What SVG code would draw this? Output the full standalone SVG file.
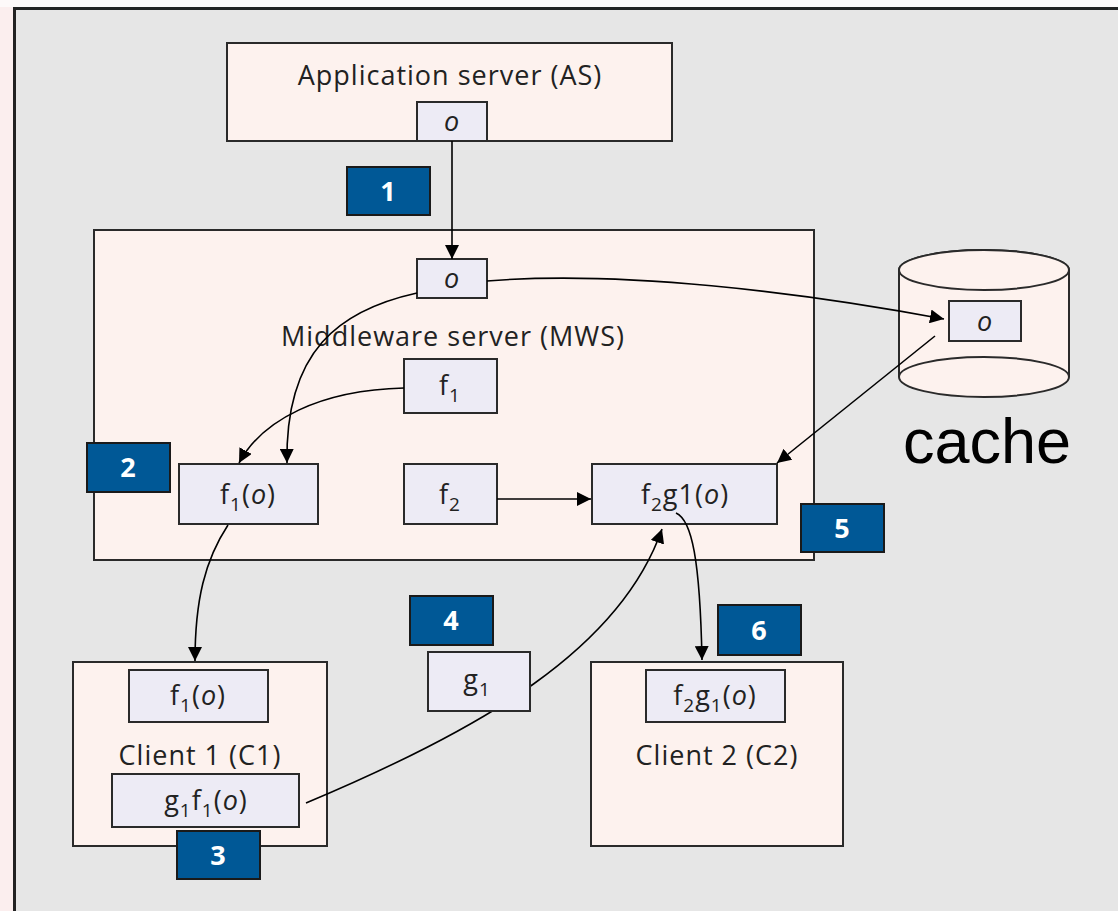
<svg xmlns="http://www.w3.org/2000/svg" width="1118" height="911" viewBox="0 0 1118 911">
<defs>
<marker id="ahb" viewBox="0 0 10 10" refX="10" refY="5" markerWidth="14" markerHeight="14" markerUnits="userSpaceOnUse" orient="auto">
<path d="M0,0 L10,5 L0,10 z" fill="#000"/>
</marker>
</defs>
<style>
.frame{fill:#e6e6e6;stroke:#222;stroke-width:3}
.outer{fill:#fdf2ee;stroke:#2a2a2a;stroke-width:2}
.inner{fill:#edebf5;stroke:#2a2a2a;stroke-width:2}
.badge{fill:#005896;stroke:#1a1a1a;stroke-width:2}
.bt{font-family:"Open Sans","Noto Sans",sans-serif;font-size:27px;font-weight:bold;fill:#fff;text-anchor:middle}
.t{font-family:"Open Sans","Noto Sans",sans-serif;font-size:27px;letter-spacing:1px;fill:#222;text-anchor:middle}
.it{font-style:italic}
.conn{fill:none;stroke:#000;stroke-width:1.6}
.cache{fill:#fdf2ee;stroke:#2a2a2a;stroke-width:2}
</style>
<rect x="0" y="0" width="1118" height="911" fill="#fbeeee"/>
<rect x="0" y="0" width="1118" height="7" fill="#fdf9f9"/>
<rect class="frame" x="14.5" y="8.5" width="1200" height="1000"/>

<g id="as">
<rect class="outer" x="227" y="43" width="445" height="98"/>
<text class="t" x="450" y="85">Application server (AS)</text>
<rect class="inner" x="417" y="102" width="70" height="39"/>
<text class="t it" x="452" y="131">o</text>
</g>

<g id="mws">
<rect class="outer" x="94" y="230" width="720" height="330"/>
<text class="t" x="453" y="346">Middleware server (MWS)</text>
</g>

<g id="mws-o">
<rect class="inner" x="417" y="259" width="70" height="39"/>
<text class="t it" x="452" y="288">o</text>
</g>

<g id="f1">
<rect class="inner" x="404" y="359" width="93" height="54"/>
<text class="t" x="450" y="395">f<tspan font-size="19" dy="7">1</tspan></text>
</g>

<g id="f1o">
<rect class="inner" x="179" y="464" width="139" height="60"/>
<text class="t" x="248" y="504">f<tspan font-size="19" dy="7">1</tspan><tspan dy="-7">(</tspan><tspan class="it">o</tspan>)</text>
</g>

<g id="f2">
<rect class="inner" x="404" y="464" width="93" height="60"/>
<text class="t" x="450" y="504">f<tspan font-size="19" dy="7">2</tspan></text>
</g>

<g id="f2g1o">
<rect class="inner" x="592" y="464" width="185" height="60"/>
<text class="t" x="685" y="504">f<tspan font-size="19" dy="7">2</tspan><tspan dy="-7">g1(</tspan><tspan class="it">o</tspan>)</text>
</g>

<g id="cache">
<path class="cache" d="M899,270 L899,377 A85,20 0 0 0 1069,377 L1069,270 A85,20 0 0 0 899,270 Z"/>
<ellipse class="cache" cx="984" cy="270" rx="85" ry="20"/>
<path d="M899,377 A85,20 0 0 1 1069,377" fill="none" stroke="#2a2a2a" stroke-width="2"/>
<rect class="inner" x="949" y="301" width="72" height="40"/>
<text class="t it" x="985" y="331">o</text>
<text x="987" y="463" font-family="Liberation Sans, Arial, sans-serif" font-size="63" fill="#000" text-anchor="middle">cache</text>
</g>

<g id="client1">
<rect class="outer" x="73" y="662" width="254" height="184"/>
<text class="t" x="200" y="765">Client 1 (C1)</text>
</g>

<g id="client2">
<rect class="outer" x="591" y="662" width="252" height="184"/>
<text class="t" x="717" y="765">Client 2 (C2)</text>
<rect class="inner" x="646" y="670" width="139" height="52"/>
<text class="t" x="715" y="705">f<tspan font-size="19" dy="7">2</tspan><tspan dy="-7">g</tspan><tspan font-size="19" dy="7">1</tspan><tspan dy="-7">(</tspan><tspan class="it">o</tspan>)</text>
</g>

<g id="connectors">
<line class="conn" x1="452" y1="141" x2="452" y2="259" marker-end="url(#ahb)"/>
<path class="conn" d="M487,281 C620,270 800,292 944,319" marker-end="url(#ahb)"/>
<path class="conn" d="M935,336 L777,463" marker-end="url(#ahb)"/>
<path class="conn" d="M417,293 C340,310 285,350 287,463" marker-end="url(#ahb)"/>
<path class="conn" d="M404,388 C320,390 262,420 239,463" marker-end="url(#ahb)"/>
<line class="conn" x1="497" y1="499" x2="591" y2="499" marker-end="url(#ahb)"/>
<path class="conn" d="M228,525 C205,560 195,600 195,661" marker-end="url(#ahb)"/>
<path class="conn" d="M676,513 C692,520 700,560 702,660" marker-end="url(#ahb)"/>
<path class="conn" d="M306,803 C480,730 620,650 662,529" marker-end="url(#ahb)"/>
</g>

<g id="c1-f1o">
<rect class="inner" x="129" y="670" width="139" height="52"/>
<text class="t" x="198" y="705">f<tspan font-size="19" dy="7">1</tspan><tspan dy="-7">(</tspan><tspan class="it">o</tspan>)</text>
</g>

<g id="g1f1o">
<rect class="inner" x="112" y="774" width="187" height="53"/>
<text class="t" x="206" y="810">g<tspan font-size="19" dy="7">1</tspan><tspan dy="-7">f</tspan><tspan font-size="19" dy="7">1</tspan><tspan dy="-7">(</tspan><tspan class="it">o</tspan>)</text>
</g>

<g id="g1">
<rect class="inner" x="428" y="652" width="102" height="59"/>
<text class="t" x="477" y="689">g<tspan font-size="19" dy="7">1</tspan></text>
</g>

<g id="badges">
<rect class="badge" x="347" y="167" width="83" height="48"/><text class="bt" x="388" y="201">1</text>
<rect class="badge" x="87" y="443" width="83" height="49"/><text class="bt" x="128" y="477">2</text>
<rect class="badge" x="177" y="831" width="83" height="48"/><text class="bt" x="218" y="865">3</text>
<rect class="badge" x="410" y="596" width="83" height="49"/><text class="bt" x="451" y="630">4</text>
<rect class="badge" x="801" y="504" width="83" height="48"/><text class="bt" x="842" y="538">5</text>
<rect class="badge" x="718" y="605" width="83" height="50"/><text class="bt" x="759" y="640">6</text>
</g>
</svg>
